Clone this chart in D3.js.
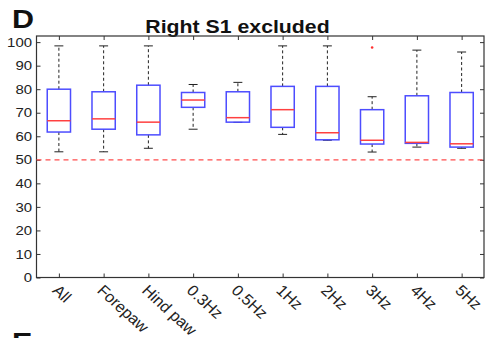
<!DOCTYPE html>
<html>
<head>
<meta charset="utf-8">
<script src="https://cdn.jsdelivr.net/npm/d3@7"></script>
<style>
  body { margin: 0; background: #fff; }
  svg { display: block; font-family: Arial, "Liberation Sans", sans-serif; }
</style>
</head>
<body>
<div id="chart"></div>
<script>
(function() {
  'use strict';
  var categories = ['All', 'Forepaw', 'Hind paw', '0.3Hz', '0.5Hz', '1Hz', '2Hz', '3Hz', '4Hz', '5Hz'],
      whiskerLow  = [53.4, 53.4, 54.9, 63.0, 65.9, 60.8, 58.3, 53.3, 55.4, 54.9],
      q1          = [61.8, 63.0, 60.6, 72.3, 66.0, 63.8, 58.5, 56.7, 57.0, 55.4],
      median      = [66.6, 67.4, 66.0, 75.4, 67.9, 71.3, 61.5, 58.3, 57.4, 56.8],
      q3          = [80.0, 78.9, 81.7, 78.6, 78.9, 81.2, 81.2, 71.3, 77.2, 78.6],
      whiskerHigh = [98.4, 98.4, 98.4, 82.0, 82.9, 98.4, 98.4, 76.8, 96.6, 95.8],
      outliers    = [[], [], [], [], [], [], [], [97.7], [], []],
      yTicks = [0, 10, 20, 30, 40, 50, 60, 70, 80, 90, 100],
      chance = 50;

  var width = 491, height = 338,
      margin = {top: 36, right: 7, bottom: 60.5, left: 36.5},
      w = width - margin.left - margin.right,
      h = height - margin.top - margin.bottom,
      stretch = 1.15;

  var data = categories.map(function(c, i) {
    return {name: c, i: i + 1, lo: whiskerLow[i], q1: q1[i], med: median[i],
            q3: q3[i], hi: whiskerHigh[i], out: outliers[i]};
  });

  var x = d3.scaleLinear().domain([0.5, categories.length + 0.5]).range([0, w]),
      y = d3.scaleLinear().domain([0, 102.6]).range([h, 0]);

  var svg = d3.select('#chart').append('svg')
    .attr('width', width)
    .attr('height', height);

  // panel letters and title (the original figure is slightly stretched sideways)
  function label(tx, ty, size, anchor, txt) {
    svg.append('text')
      .attr('transform', 'translate(' + tx + ',' + ty + ') scale(' + stretch + ',1)')
      .attr('text-anchor', anchor)
      .style('font-size', size + 'px').style('font-weight', 'bold')
      .attr('fill', '#111')
      .text(txt);
  }
  label(12, 28, 26.5, 'start', 'D');
  label(12, 351, 26.5, 'start', 'E');
  label(237.5, 32.5, 18.5, 'middle', 'Right S1 excluded');

  var g = svg.append('g')
    .attr('transform', 'translate(' + margin.left + ',' + margin.top + ')');

  var axisCol = '#333';

  // frame
  g.append('rect').attr('width', w).attr('height', h)
    .attr('fill', 'none').attr('stroke', axisCol).attr('stroke-width', 1.2);

  // left axis
  var yAxis = d3.axisLeft(y).tickValues(yTicks).tickSizeInner(-4).tickSizeOuter(0).tickPadding(0);
  g.append('g').call(yAxis)
    .call(function(s) {
      s.select('.domain').remove();
      s.selectAll('line').attr('stroke', axisCol);
      s.selectAll('text')
        .attr('fill', '#222')
        .style('font-size', '13px')
        .style('font-family', 'Arial, "Liberation Sans", sans-serif')
        .attr('x', null)
        .attr('transform', 'translate(-4.5,0) scale(' + stretch + ',1)');
    });
  // right ticks
  g.append('g').attr('transform', 'translate(' + w + ',0)')
    .call(d3.axisRight(y).tickValues(yTicks).tickSizeInner(-4).tickSizeOuter(0).tickFormat(''))
    .call(function(s) { s.select('.domain').remove(); s.selectAll('line').attr('stroke', axisCol); });

  // bottom axis
  var xAxis = d3.axisBottom(x).tickValues(d3.range(1, categories.length + 1))
    .tickSizeInner(-4).tickSizeOuter(0).tickFormat(function(d) { return categories[d - 1]; });
  g.append('g').attr('transform', 'translate(0,' + h + ')').call(xAxis)
    .call(function(s) {
      s.select('.domain').remove();
      s.selectAll('line').attr('stroke', axisCol);
      s.selectAll('text')
        .attr('fill', '#222')
        .style('font-size', '15.5px')
        .style('font-family', 'Arial, "Liberation Sans", sans-serif')
        .attr('text-anchor', 'start')
        .attr('dy', null)
        .attr('y', 0)
        .attr('transform', 'translate(-8,14) scale(1.06,1) rotate(44)');
    });
  // top ticks
  g.append('g')
    .call(d3.axisTop(x).tickValues(d3.range(1, categories.length + 1)).tickSizeInner(-4).tickSizeOuter(0).tickFormat(''))
    .call(function(s) { s.select('.domain').remove(); s.selectAll('line').attr('stroke', axisCol); });

  // chance line
  g.append('line')
    .attr('x1', 0).attr('x2', w)
    .attr('y1', y(chance)).attr('y2', y(chance))
    .attr('stroke', '#ff4d4d').attr('stroke-width', 1.2)
    .attr('stroke-dasharray', '5,4');

  var boxW = x(1.26) - x(1),
      capW = x(1.1) - x(1);

  var boxes = g.selectAll('g.box').data(data).enter()
    .append('g').classed('box', true);

  // whiskers
  boxes.append('line')
    .attr('x1', function(d) { return x(d.i); }).attr('x2', function(d) { return x(d.i); })
    .attr('y1', function(d) { return y(d.q3); }).attr('y2', function(d) { return y(d.hi); })
    .attr('stroke', '#222').attr('stroke-width', 1).attr('stroke-dasharray', '3,2.5');
  boxes.append('line')
    .attr('x1', function(d) { return x(d.i); }).attr('x2', function(d) { return x(d.i); })
    .attr('y1', function(d) { return y(d.q1); }).attr('y2', function(d) { return y(d.lo); })
    .attr('stroke', '#222').attr('stroke-width', 1).attr('stroke-dasharray', '3,2.5');
  ['hi', 'lo'].forEach(function(k) {
    boxes.append('line')
      .attr('x1', function(d) { return x(d.i) - capW; }).attr('x2', function(d) { return x(d.i) + capW; })
      .attr('y1', function(d) { return y(d[k]); }).attr('y2', function(d) { return y(d[k]); })
      .attr('stroke', '#222').attr('stroke-width', 1);
  });

  // boxes
  boxes.append('rect')
    .attr('x', function(d) { return x(d.i) - boxW; })
    .attr('width', 2 * boxW)
    .attr('y', function(d) { return y(d.q3); })
    .attr('height', function(d) { return y(d.q1) - y(d.q3); })
    .attr('fill', 'none').attr('stroke', '#4d4dff').attr('stroke-width', 1.5);

  // medians
  boxes.append('line')
    .attr('x1', function(d) { return x(d.i) - boxW; }).attr('x2', function(d) { return x(d.i) + boxW; })
    .attr('y1', function(d) { return y(d.med); }).attr('y2', function(d) { return y(d.med); })
    .attr('stroke', '#ff4040').attr('stroke-width', 1.5);

  // outliers
  boxes.selectAll('circle').data(function(d) {
    return d.out.map(function(v) { return {i: d.i, v: v}; });
  }).enter().append('circle')
    .attr('cx', function(d) { return x(d.i); })
    .attr('cy', function(d) { return y(d.v); })
    .attr('r', 1.3).attr('fill', '#ff3030');
})();
</script>
</body>
</html>
